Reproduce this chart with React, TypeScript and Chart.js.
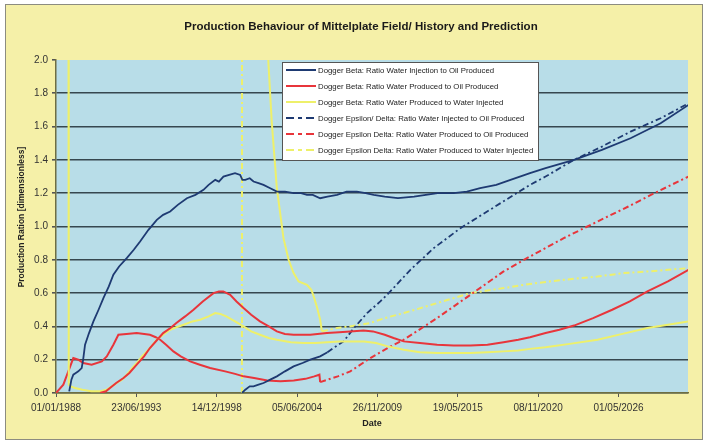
import React, { useEffect, useRef } from 'react';
import { Chart, registerables } from 'chart.js';

Chart.register(...registerables);

const FONT = '"Liberation Sans", Arial, Helvetica, sans-serif';

const TITLE = 'Production Behaviour of Mittelplate Field/ History and Prediction';
const Y_TITLE = 'Production Ration [dimensionless]';
const X_TITLE = 'Date';

const SERIES_LABELS = [
  'Dogger Beta: Ratio Water Injection to Oil Produced',
  'Dogger Beta: Ratio Water Produced to Oil Produced',
  'Dogger Beta: Ratio Water Produced to Water Injected',
  'Dogger Epsilon/ Delta: Ratio Water Injected to Oil Produced',
  'Dogger Epsilon Delta: Ratio Water Produced to Oil Produced',
  'Dogger Epsilon Delta: Ratio Water Produced to Water Injected',
];
const SERIES_COLORS = ['#1E3A72', '#E8353B', '#EEF06A', '#1E3A72', '#E8353B', '#EEF06A'];

// x axis: days since 01/01/1988, ticks every 2000 days
const X_ORIGIN_YEAR = 1988;
const X_TICK_STEP_DAYS = 2000;
const X_TICK_COUNT = 8;
const X_MAX_DAYS = 15730;
const Y_MIN = 0;
const Y_MAX = 2;
const Y_STEP = 0.2;

// [decimal year, ratio]
const betaInjOil: [number, number][] = [
  [1988.9, 0.01], [1989.05, 0.08], [1989.18, 0.11], [1989.35, 0.12], [1989.52, 0.13], [1989.75, 0.15],
  [1989.85, 0.2], [1989.98, 0.29], [1990.25, 0.36], [1990.55, 0.43], [1990.9, 0.5], [1991.23, 0.57],
  [1991.6, 0.64], [1991.91, 0.71], [1992.3, 0.76], [1992.82, 0.81], [1993.3, 0.86], [1993.73, 0.91],
  [1994.3, 0.98], [1994.87, 1.04], [1995.3, 1.07], [1995.78, 1.09], [1996.3, 1.13], [1996.92, 1.17],
  [1997.5, 1.19], [1998.05, 1.22], [1998.4, 1.25], [1998.85, 1.28], [1999.1, 1.27], [1999.41, 1.3],
  [1999.8, 1.31], [2000.2, 1.32], [2000.55, 1.31], [2000.7, 1.28], [2000.9, 1.28], [2001.2, 1.29],
  [2001.46, 1.27], [2001.8, 1.26], [2002.14, 1.25], [2002.6, 1.23], [2003.05, 1.21], [2003.6, 1.21],
  [2004.19, 1.2], [2004.7, 1.2], [2005.1, 1.19], [2005.5, 1.19], [2006.0, 1.17], [2006.5, 1.18],
  [2007.15, 1.19], [2007.8, 1.21], [2008.5, 1.21], [2009.1, 1.2], [2009.65, 1.19], [2010.4, 1.18],
  [2011.3, 1.17], [2012.4, 1.18], [2013.2, 1.19], [2014.0, 1.2], [2015.1, 1.2], [2016.0, 1.21],
  [2016.9, 1.23], [2018.0, 1.25], [2018.97, 1.28], [2020.3, 1.32], [2021.36, 1.35], [2023.3, 1.4],
  [2025.2, 1.46], [2027.15, 1.53], [2029.2, 1.62], [2031.1, 1.73],
];

const betaProdOil: [number, number][] = [
  [1991.0, 0], [1991.4, 0.01], [1991.68, 0.03], [1992.1, 0.06], [1992.6, 0.09], [1993.0, 0.12],
  [1993.5, 0.17], [1994.0, 0.22], [1994.4, 0.27], [1994.9, 0.32], [1995.3, 0.36], [1995.8, 0.39],
  [1996.2, 0.42], [1996.8, 0.46], [1997.37, 0.5], [1998.0, 0.55], [1998.73, 0.6], [1999.1, 0.61],
  [1999.4, 0.61], [1999.87, 0.59], [2000.3, 0.55], [2000.78, 0.51], [2001.3, 0.47], [2001.9, 0.43],
  [2002.5, 0.4], [2003.05, 0.37], [2003.6, 0.355], [2004.19, 0.35], [2005.33, 0.35], [2006.46, 0.36],
  [2007.3, 0.365], [2008.05, 0.37], [2008.96, 0.375], [2009.6, 0.37], [2010.4, 0.35], [2011.0, 0.33],
  [2011.7, 0.31], [2012.8, 0.3], [2013.97, 0.29], [2015.1, 0.285], [2016.24, 0.285], [2017.4, 0.29],
  [2018.5, 0.305], [2019.5, 0.32], [2020.3, 0.335], [2021.36, 0.36], [2022.3, 0.38], [2023.3, 0.405],
  [2024.6, 0.45], [2025.9, 0.5], [2027.1, 0.55], [2028.3, 0.61], [2029.7, 0.67], [2031.1, 0.74],
];

const betaProdInj: [number, number][] = [
  [1988.82, 6], [1988.87, 0.05], [1989.0, 0.04], [1989.3, 0.03], [1989.8, 0.02], [1990.4, 0.01],
  [1991.0, 0.01], [1991.46, 0.02], [1991.8, 0.04], [1992.14, 0.06], [1992.5, 0.08], [1992.82, 0.11],
  [1993.2, 0.15], [1993.5, 0.18], [1993.85, 0.22], [1994.19, 0.25], [1994.5, 0.28], [1994.87, 0.32],
  [1995.3, 0.35], [1995.78, 0.38], [1996.2, 0.395], [1996.7, 0.41], [1997.3, 0.43], [1997.82, 0.44],
  [1998.4, 0.46], [1998.85, 0.48], [1999.2, 0.475], [1999.6, 0.46], [2000.2, 0.43], [2000.78, 0.4],
  [2001.3, 0.37], [2001.9, 0.35], [2002.5, 0.33], [2003.05, 0.32], [2004.0, 0.305], [2004.87, 0.3],
  [2005.7, 0.3], [2006.46, 0.305], [2007.3, 0.31], [2008.05, 0.31], [2009.0, 0.31], [2009.8, 0.3],
  [2010.6, 0.28], [2011.7, 0.26], [2012.8, 0.245], [2013.97, 0.24], [2015.1, 0.24], [2016.24, 0.24],
  [2017.4, 0.245], [2018.5, 0.25], [2019.5, 0.255], [2020.3, 0.265], [2021.36, 0.275], [2023.0, 0.295],
  [2024.9, 0.32], [2026.6, 0.355], [2028.3, 0.39], [2029.7, 0.41], [2031.1, 0.43],
];

const epsInjOil: [number, number][] = [
  [2000.67, 0], [2000.9, 0.02], [2001.2, 0.04], [2001.46, 0.04], [2001.8, 0.05], [2002.14, 0.06],
  [2002.6, 0.08], [2003.05, 0.1], [2003.6, 0.13], [2004.19, 0.16], [2004.8, 0.18], [2005.33, 0.2],
  [2006.0, 0.22], [2006.5, 0.245], [2006.9, 0.27], [2007.6, 0.31], [2008.3, 0.39], [2009.2, 0.48],
  [2010.1, 0.55], [2010.78, 0.61], [2012.15, 0.74], [2013.74, 0.87], [2015.56, 0.99], [2017.38, 1.09],
  [2019.2, 1.19], [2020.3, 1.25], [2021.36, 1.3], [2023.3, 1.4], [2025.2, 1.48], [2027.15, 1.57],
  [2029.2, 1.65], [2031.1, 1.74],
];

const epsProdOil: [number, number][] = [
  [1988.0, 0], [1988.5, 0.05], [1988.84, 0.13], [1989.18, 0.21], [1989.52, 0.2], [1989.86, 0.18],
  [1990.43, 0.17], [1991.12, 0.19], [1991.46, 0.22], [1991.91, 0.29], [1992.25, 0.35], [1992.8, 0.355],
  [1993.5, 0.36], [1994.4, 0.35], [1994.8, 0.335], [1995.1, 0.32], [1995.5, 0.29], [1996.0, 0.25],
  [1996.5, 0.22], [1997.14, 0.19], [1997.8, 0.17], [1998.5, 0.15], [1999.53, 0.13], [2000.2, 0.115],
  [2000.78, 0.1], [2001.5, 0.09], [2002.4, 0.075], [2003.3, 0.07], [2004.2, 0.075], [2005.0, 0.085],
  [2005.6, 0.1], [2005.95, 0.11], [2006.0, 0.065], [2006.5, 0.08], [2007.2, 0.1], [2008.05, 0.13],
  [2009.42, 0.21], [2010.5, 0.265], [2011.7, 0.32], [2013.97, 0.45], [2016.24, 0.59], [2018.5, 0.73],
  [2020.3, 0.82], [2022.6, 0.93], [2024.9, 1.03], [2027.0, 1.12], [2029.0, 1.21], [2031.1, 1.3],
];

const epsProdInj: [number, number][] = [
  [2000.67, 0], [2000.69, 6], [2002.3, 6], [2002.4, 2.1], [2002.7, 1.63], [2003.05, 1.23],
  [2003.5, 0.93], [2003.85, 0.8], [2004.19, 0.72], [2004.53, 0.67], [2005.1, 0.65], [2005.4, 0.62],
  [2005.56, 0.58], [2005.8, 0.51], [2006.0, 0.44], [2006.12, 0.37], [2006.6, 0.38], [2007.15, 0.39],
  [2008.0, 0.4], [2008.74, 0.41], [2009.4, 0.42], [2010.4, 0.45], [2011.7, 0.48], [2013.97, 0.54],
  [2016.24, 0.6], [2018.5, 0.63], [2020.3, 0.655], [2022.6, 0.68], [2024.9, 0.7], [2026.7, 0.72],
  [2028.3, 0.73], [2031.1, 0.75],
];

// history part of the Epsilon/Delta series is drawn solid, prediction dash-dot
const EPS_INJ_SOLID: [number, number] = [2000, 2006.5];
const EPS_PROD_OIL_SOLID: [number, number] = [1988, 2005.99];
const EPS_PROD_INJ_SOLID: [number, number] = [2002.2, 2006.1];

const DASH_DOT = [6, 3, 2, 3];

const yearToDays = (yr: number) => (yr - X_ORIGIN_YEAR) * 365.25;
const toPoints = (arr: [number, number][]) => arr.map(([yr, v]) => ({ x: yearToDays(yr), y: v }));

const formatDay = (days: number) => {
  const d = new Date(Date.UTC(X_ORIGIN_YEAR, 0, 1) + Math.round(days) * 86400000);
  const dd = String(d.getUTCDate()).padStart(2, '0');
  const mm = String(d.getUTCMonth() + 1).padStart(2, '0');
  return `${dd}/${mm}/${d.getUTCFullYear()}`;
};

const solidBetween = (range: [number, number]) => (ctx: any) => {
  const x0 = ctx.p0.parsed.x;
  return x0 >= yearToDays(range[0]) && x0 < yearToDays(range[1]) ? [] : undefined;
};

const backgroundPlugin = {
  id: 'bgPlugin',
  beforeDraw(chart: any) {
    const { ctx, chartArea, width, height } = chart;
    ctx.save();
    ctx.fillStyle = '#FFFFFF';
    ctx.fillRect(0, 0, width, height);
    ctx.fillStyle = '#F5F0A8';
    ctx.fillRect(5, 4, width - 9, height - 5);
    ctx.strokeStyle = '#8C8C80';
    ctx.lineWidth = 1;
    ctx.strokeRect(5.5, 4.5, width - 10, height - 6);
    ctx.fillStyle = '#B8DDE8';
    ctx.fillRect(chartArea.left, chartArea.top, chartArea.right - chartArea.left, chartArea.bottom - chartArea.top);
    ctx.restore();
  },
};

const titlesPlugin = {
  id: 'titlesPlugin',
  afterDraw(chart: any) {
    const { ctx, chartArea } = chart;
    ctx.save();
    ctx.fillStyle = '#1A1A1A';
    ctx.textAlign = 'center';
    ctx.textBaseline = 'middle';
    ctx.font = `bold 11.5px ${FONT}`;
    ctx.fillText(TITLE, chartArea.left + 305, 27);
    ctx.fillStyle = '#222222';
    ctx.font = `bold 8.5px ${FONT}`;
    ctx.translate(22, chartArea.top + 157);
    ctx.rotate(-Math.PI / 2);
    ctx.fillText(Y_TITLE, 0, 0);
    ctx.restore();
  },
};

const legendPlugin = {
  id: 'insideLegend',
  afterDraw(chart: any) {
    const { ctx, chartArea } = chart;
    const ds = chart.data.datasets;
    ctx.save();
    ctx.font = `7.8px ${FONT}`;
    const left = chartArea.left + 226;
    const top = chartArea.top + 2;
    const rowH = 16;
    const textX = left + 36;
    let maxW = 0;
    ds.forEach((d: any) => { maxW = Math.max(maxW, ctx.measureText(d.label).width); });
    const w = Math.round(textX - left + maxW + 5);
    const h = rowH * ds.length + 2;
    ctx.fillStyle = '#FFFFFF';
    ctx.fillRect(left, top, w, h);
    ctx.strokeStyle = '#555555';
    ctx.lineWidth = 1;
    ctx.strokeRect(left + 0.5, top + 0.5, w, h);
    ds.forEach((d: any, i: number) => {
      const y = top + 8 + i * rowH;
      ctx.beginPath();
      ctx.setLineDash(i >= 3 ? [8, 4, 4, 4] : []);
      ctx.strokeStyle = d.borderColor;
      ctx.lineWidth = 2;
      ctx.moveTo(left + 4, y);
      ctx.lineTo(left + 34, y);
      ctx.stroke();
      ctx.setLineDash([]);
      ctx.fillStyle = '#222222';
      ctx.textBaseline = 'middle';
      ctx.textAlign = 'left';
      ctx.fillText(d.label, textX, y + 0.5);
    });
    ctx.restore();
  },
};

export default function App() {
  const canvasRef = useRef<HTMLCanvasElement | null>(null);

  useEffect(() => {
    if (!canvasRef.current) return;
    const series = [betaInjOil, betaProdOil, betaProdInj, epsInjOil, epsProdOil, epsProdInj];
    const solids = [null, null, null, EPS_INJ_SOLID, EPS_PROD_OIL_SOLID, EPS_PROD_INJ_SOLID];
    const datasets = series.map((s, i) => ({
      label: SERIES_LABELS[i],
      data: toPoints(s),
      borderColor: SERIES_COLORS[i],
      backgroundColor: SERIES_COLORS[i],
      borderWidth: i === 0 || i === 3 ? 1.8 : 2,
      borderDash: i >= 3 ? DASH_DOT : [],
      pointRadius: 0,
      tension: 0,
      fill: false,
      segment: solids[i] ? { borderDash: solidBetween(solids[i] as [number, number]) } : undefined,
    }));

    const tickFont = { family: FONT, size: 10 };
    const chart = new Chart(canvasRef.current, {
      type: 'line',
      data: { datasets },
      plugins: [backgroundPlugin, legendPlugin, titlesPlugin],
      options: {
        animation: false,
        responsive: false,
        devicePixelRatio: 1,
        layout: { padding: { left: 0, right: 19, top: 60, bottom: 0 } },
        plugins: {
          legend: { display: false },
          tooltip: { enabled: false },
          title: { display: false },
        },
        scales: {
          x: {
            type: 'linear',
            min: 0,
            max: X_MAX_DAYS,
            afterFit: (s: any) => { s.height = 48; },
            afterBuildTicks: (s: any) => {
              s.ticks = Array.from({ length: X_TICK_COUNT }, (_, k) => ({ value: k * X_TICK_STEP_DAYS }));
            },
            ticks: {
              autoSkip: false,
              maxRotation: 0,
              callback: (v: any) => formatDay(Number(v)),
              font: tickFont,
              color: '#333333',
              padding: 5,
            },
            grid: { drawOnChartArea: false, drawTicks: true, tickLength: 4, color: '#555555', tickColor: '#555555' },
            border: { display: true, color: '#6E6E42', width: 1.5 },
            title: {
              display: true,
              text: X_TITLE,
              color: '#222222',
              font: { family: FONT, size: 9, weight: 'bold' },
              padding: { top: 0, bottom: 12 },
            },
          },
          y: {
            min: Y_MIN,
            max: Y_MAX,
            afterFit: (s: any) => { s.width = 56; },
            ticks: {
              stepSize: Y_STEP,
              callback: (v: any) => Number(v).toFixed(1),
              font: tickFont,
              color: '#333333',
              padding: 4,
            },
            grid: {
              color: (c: any) => (c.tick && c.tick.value > Y_MAX - 0.01 ? 'rgba(0,0,0,0)' : '#36474F'),
              lineWidth: 1.6,
              tickLength: 4,
              tickColor: '#555555',
            },
            border: { display: true, color: '#6E6E42', width: 1.5 },
          },
        },
      } as any,
    });
    return () => chart.destroy();
  }, []);

  return (
    <div style={{ position: 'fixed', left: 0, top: 0, width: 707, height: 441 }}>
      <canvas ref={canvasRef} width={707} height={441} style={{ width: 707, height: 441, display: 'block' }} />
    </div>
  );
}
